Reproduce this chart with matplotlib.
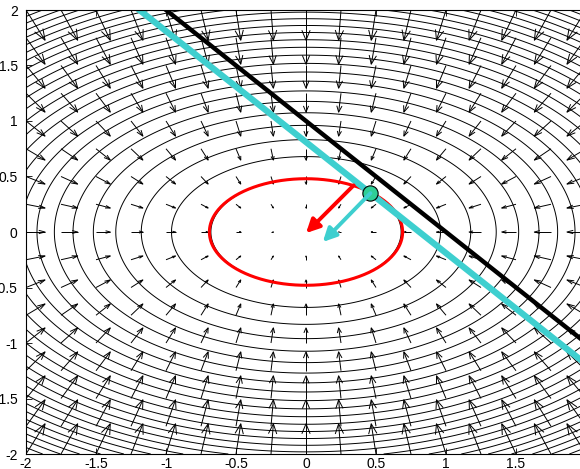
import numpy as np
import matplotlib
matplotlib.use("Agg")
import matplotlib.pyplot as plt
from matplotlib.collections import LineCollection

# quadratic bowl f(x, y) = cx*x^2 + cy*y^2
cx, cy = 1.0, 2.0
n_levels = 25

# quiver grid and arrow scale
grid_ticks = np.arange(-2, 2.001, 0.25)
arrow_scale = 0.034

# red level set ellipse (semi axes)
ellipse_rx, ellipse_ry = 0.69, 0.48

# constraint lines x + y = c
black_c = 1.0
cyan_c = 0.81

# point on the ellipse and the two arrows
point = (0.46, 0.35)
red_start, red_end = (0.34, 0.42), (0.0, -0.01)
cyan_start, cyan_end = (0.46, 0.35), (0.12, -0.09)

xticks = [-2, -1.5, -1, -0.5, 0, 0.5, 1, 1.5, 2]
yticks = [-2, -1.5, -1, -0.5, 0, 0.5, 1, 1.5, 2]

plt.rcParams['font.family'] = ['Liberation Sans', 'DejaVu Sans']
plt.rcParams['axes.unicode_minus'] = False

fig = plt.figure(figsize=(5.8, 4.69), dpi=100)
ax = fig.add_axes([26/580, 15/469, 560/580, 444/469])

# contours
xs = np.linspace(-2, 2, 400)
X, Y = np.meshgrid(xs, xs)
Z = cx*X**2 + cy*Y**2
levels = np.linspace(0, Z.max(), n_levels + 2)[1:-1]
ax.contour(X, Y, Z, levels=levels, colors='k', linewidths=0.7)

# negative gradient field, matlab style arrows
GX, GY = np.meshgrid(grid_ticks, grid_ticks)
U = -2*cx*GX*arrow_scale
V = -2*cy*GY*arrow_scale
alpha, beta = 0.33, 0.33
segs = []
for x, y, u, v in zip(GX.ravel(), GY.ravel(), U.ravel(), V.ravel()):
    tx, ty = x + u, y + v
    segs.append([(x, y), (tx, ty)])
    segs.append([(tx - alpha*(u + beta*v), ty - alpha*(v - beta*u)),
                 (tx, ty),
                 (tx - alpha*(u - beta*v), ty - alpha*(v + beta*u))])
ax.add_collection(LineCollection(segs, colors='k', linewidths=0.7))

# red ellipse
t = np.linspace(0, 2*np.pi, 300)
ax.plot(ellipse_rx*np.cos(t), ellipse_ry*np.sin(t), color='#ff0000', lw=2.2)

# lines
lx = np.array([-2.5, 2.5])
ax.plot(lx, black_c - lx, color='k', lw=3.2)
ax.plot(lx, cyan_c - lx, color='#3ecfcf', lw=4.5)

# arrows
ax.annotate('', xy=red_end, xytext=red_start,
            arrowprops=dict(arrowstyle='-|>', color='#ff0000', lw=2.8,
                            mutation_scale=20, shrinkA=0, shrinkB=0))
ax.annotate('', xy=cyan_end, xytext=cyan_start,
            arrowprops=dict(arrowstyle='-|>', color='#3ecfcf', lw=2.8,
                            mutation_scale=20, shrinkA=0, shrinkB=0))
ax.plot(*point, 'o', ms=11, mfc='#2fcf96', mec='k', mew=0.8)

ax.set_xlim(-2, 2)
ax.set_ylim(-2, 2)
ax.set_xticks(xticks)
ax.set_yticks(yticks)
ax.set_xticklabels([('%g' % v) for v in xticks])
ax.set_yticklabels([('%g' % v) for v in yticks])
ax.tick_params(direction='in', length=4, width=0.6, labelsize=10,
               top=True, right=True)
ax.tick_params(axis='x', pad=2)
ax.tick_params(axis='y', pad=6)
for s in ax.spines.values():
    s.set_linewidth(0.8)

fig.savefig('out.png', dpi=100)
